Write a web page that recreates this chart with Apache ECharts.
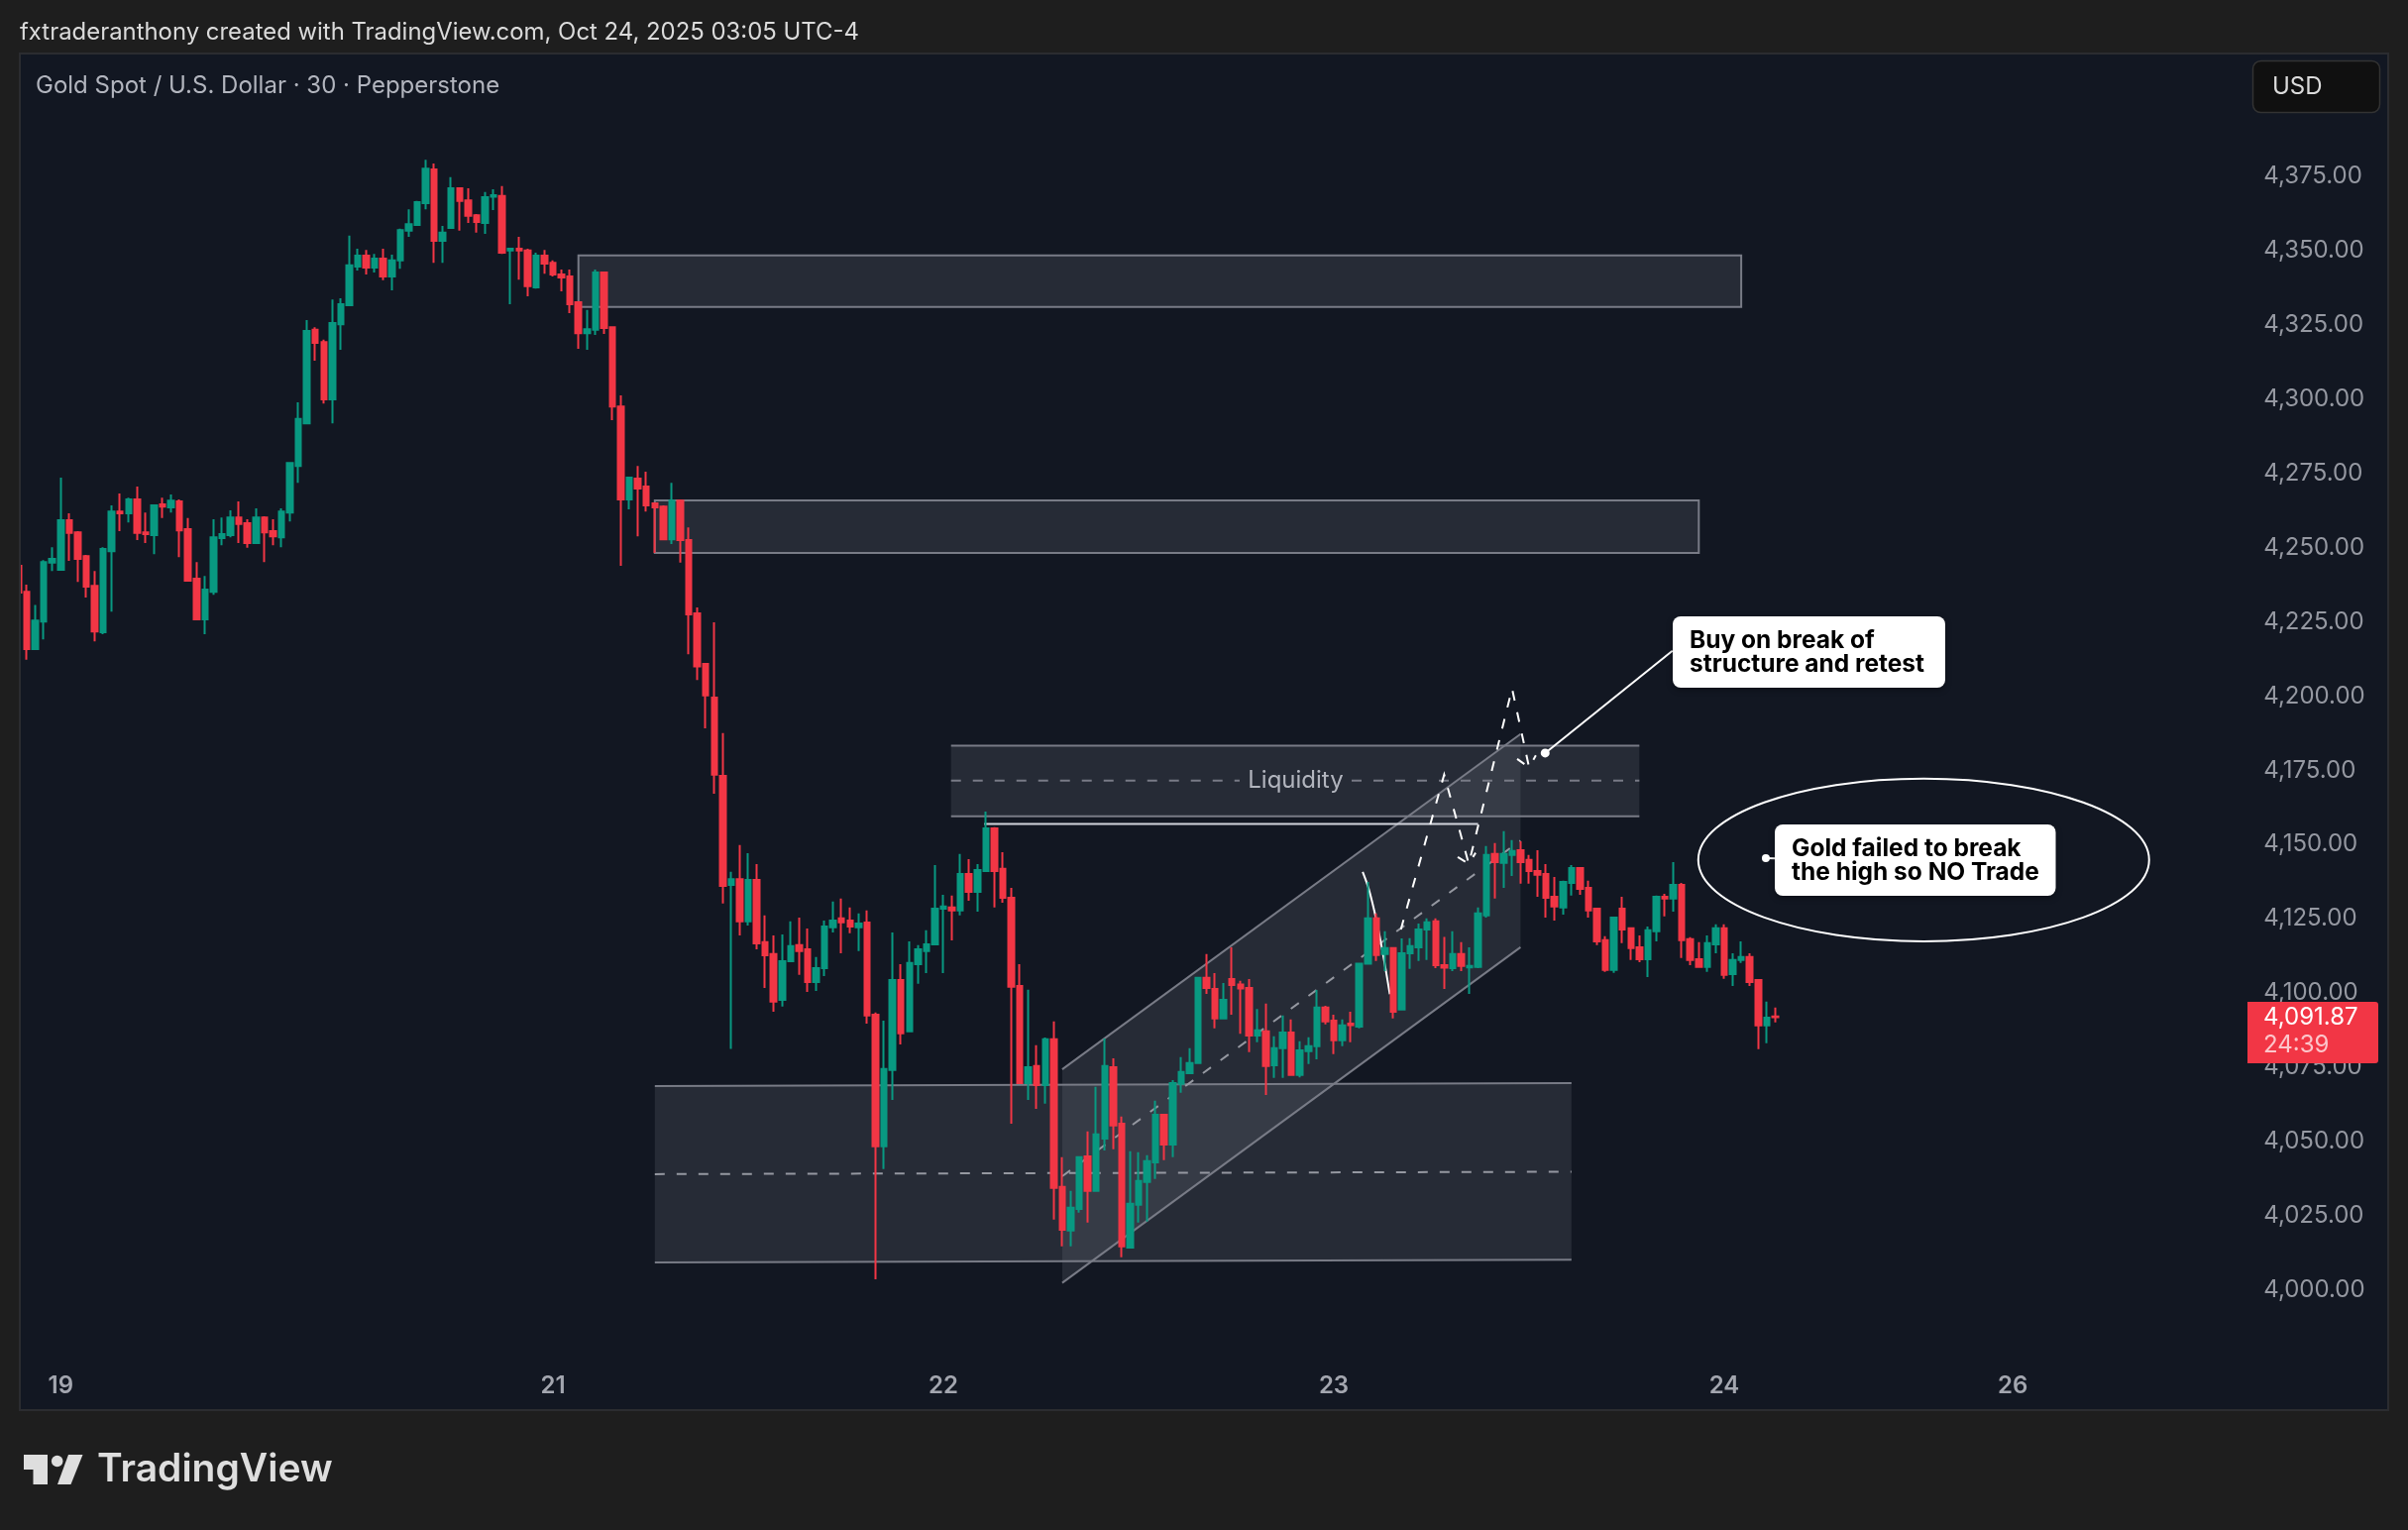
<!DOCTYPE html>
<html>
<head>
<meta charset="utf-8">
<style>html,body{margin:0;padding:0;background:#1e1e1e}#main{width:2430px;height:1544px}</style>
<script src="https://cdn.jsdelivr.net/npm/echarts@6/dist/echarts.min.js"></script>
</head>
<body>
<div id="main"></div>
<script>
// 30 minute gold candles, first one is cut by the pane edge
var opens = [4243.8,
4235.1,4215.8,4225.1,4244.9,4242.5,4259.2,4255.1,4247.1,4237.1,4221.5,
4248.8,4262.1,4261.5,4266.2,4255.1,4254.2,4264.5,4263.5,4265.5,4256.2,
4239.5,4225.8,4235.1,4253.2,4254.2,4260.1,4258.2,4251.5,4260.1,4255.5,
4253.4,4261.8,4277.5,4291.8,4323.3,4319.2,4299.9,4325.2,4331.6,4344.6,
4348.3,4344.3,4347.3,4341.3,4346.7,4356.7,4358.6,4366,4377.3,4353.3,
4357.6,4371,4366.9,4361.9,4359.3,4368.1,4368.4,4350,4350.6,4350,
4337.6,4348.3,4345.9,4341.9,4341.3,4332.6,4322.2,4323.3,4342.6,4324.2,
4297.5,4266.2,4273.2,4270.5,4264.9,4263.8,4252.8,4265.8,4252.5,4227.8,
4210.8,4199.5,4173.1,4136.4,4138.3,4124.1,4138.1,4117.1,4113.1,4097.7,
4110.7,4116.1,4114.7,4103.7,4108.4,4122.1,4125.1,4124.4,4122.1,4123.7,
4092.7,4048.4,4074.1,4104.4,4087.1,4109.7,4114.1,4116.4,4128.4,4128.8,
4127.8,4140.1,4134.1,4141.1,4155.4,4141.8,4132.1,4102.4,4069.7,4075.4,
4069,4084.4,4034.7,4020,4027.3,4045,4033.4,4051,4075,4056,
4014.3,4028.7,4036.4,4043,4059,4049,4069.4,4073,4076.4,4105.1,
4101.4,4091.4,4104.7,4102.9,4101.7,4085.7,4087.1,4075.7,4081.4,4086.7,
4072.4,4080.4,4082.1,4095.1,4090.7,4084.1,4089.7,4088.7,4109.9,4125.1,
4113.1,4115.1,4094.4,4113.4,4115.4,4121.4,4124.1,4109.4,4108.4,4113.1,
4108.6,4108.8,4126.1,4146.8,4143.8,4146.5,4148.1,4144.8,4141.1,4140.1,
4132.4,4128.8,4137.1,4142.1,4135.4,4128.4,4117.8,4107.8,4128.4,4121.8,
4115.4,4111.4,4120.8,4132.4,4131.8,4136.4,4118.1,4111.4,4108.8,4116.4,
4121.8,4106.4,4111.1,4112.1,4104.4,4089.1,4092.1];
var closes = [4234.8,
4215.8,4225.4,4245.1,4246.2,4259.2,4254.9,4246.2,4236.8,4221.7,4249.5,
4262.1,4261.5,4266.2,4254.9,4254.5,4264.2,4263.8,4265.8,4255.8,4238.8,
4225.8,4235.8,4253.4,4254.5,4260.1,4257.9,4251.5,4260.1,4255.1,4253.8,
4262.1,4278.5,4293.3,4322.9,4318.9,4299.9,4325.6,4331.9,4345,4348.3,
4344.3,4347.3,4341.3,4346.7,4356.9,4358.9,4366.3,4377.6,4353.3,4356,
4371,4366.7,4361.7,4359.6,4368,4368.6,4349.3,4350.6,4350,4338,
4348.3,4345.6,4341.9,4340.9,4331.9,4322.2,4323.5,4342.6,4323.9,4297.5,
4266.2,4273.5,4269.9,4264.2,4263.5,4252.8,4265.8,4252.5,4227.5,4210,
4200.2,4173.5,4136.1,4138.3,4124.1,4138.1,4116.7,4112.7,4097.1,4110.7,
4115.8,4114.1,4103.7,4108.4,4122.4,4124.4,4123.8,4122.4,4123.4,4092.4,
4048.4,4074.4,4104.4,4086.4,4110.1,4114.7,4116.4,4128.4,4129.1,4127.8,
4140.1,4134.1,4141.4,4155.4,4141.1,4132.1,4102.1,4069.7,4075,4069,
4084.4,4034.4,4020.3,4027.7,4044.7,4033.4,4052.4,4075.4,4055.4,4014.7,
4029,4036.7,4043.4,4059,4049,4069.7,4073.4,4076.4,4105.1,4101.7,
4091.4,4097.7,4102.7,4101.5,4085.7,4087.4,4075.4,4081.4,4086.7,4072.4,
4080.7,4082.1,4095.1,4090.4,4084.1,4089.1,4089.2,4109.9,4125.1,4112.8,
4115.1,4093.7,4113.4,4115.8,4121.4,4123.8,4109.4,4108.5,4113.1,4109.1,
4109.1,4126.8,4146.5,4144.1,4146.8,4147.8,4144.1,4141.1,4139.8,4132.1,
4129.1,4137.4,4142.1,4135.1,4127.8,4117.4,4107.8,4125.4,4121.4,4115.1,
4111.4,4121.1,4132.4,4131.8,4136.4,4117.8,4111.1,4108.8,4116.8,4121.8,
4106.1,4111.1,4112.1,4103.7,4089.1,4091.7,4091.87];
var highs = [4243.8,
4237.5,4230.7,4245.8,4250.1,4273.5,4261.5,4255.5,4247.5,4242.1,4250.1,
4264.2,4268.2,4266.8,4270.5,4261.8,4264.5,4266.8,4267.9,4266.2,4259.9,
4245.1,4240.4,4259.5,4260.1,4262.5,4265.5,4259.5,4263.2,4260.5,4259.5,
4263.2,4278.5,4298.9,4326.6,4324.2,4320,4333.5,4333.9,4355,4350.6,
4350.2,4348.9,4350.6,4348.6,4357.4,4363.9,4366.7,4380.6,4379.3,4358.3,
4374.7,4371.3,4371,4362.3,4369.7,4370.6,4371.7,4350.6,4354.6,4350.6,
4349.3,4350.2,4346.7,4343.6,4343.6,4332.6,4330,4343.6,4342.6,4324.2,
4301.2,4273.5,4277.5,4275.5,4264.9,4264.2,4271.8,4266.2,4256.8,4229.8,
4210.8,4224.8,4187.5,4140.8,4149.8,4147.1,4143.4,4126.1,4119.4,4119.7,
4124.1,4125.4,4121.7,4112.1,4124.4,4130.8,4131.8,4128.8,4126.8,4127.8,
4093.4,4090.7,4120.4,4109.7,4117.4,4116.1,4121.1,4143.1,4133.1,4132.8,
4146.8,4145.1,4143.4,4161.1,4155.8,4147.4,4135.4,4109.7,4101.1,4082.4,
4085,4090.4,4044.7,4033.4,4045,4053.4,4068.4,4084.7,4078,4058.4,
4046.7,4046.4,4045.4,4063.7,4059,4070.7,4078.4,4081.4,4105.1,4113.1,
4106.7,4103.4,4115.4,4104.1,4104.7,4094.6,4096.4,4085.4,4092.4,4091.1,
4083.8,4085.1,4101,4095.7,4092.7,4091.1,4093.7,4109.9,4137.4,4126.8,
4120.8,4115.4,4118.4,4118.5,4123.4,4125.1,4125.1,4118.9,4120.8,4117.1,
4115.4,4128.8,4149.5,4150.5,4154.5,4151.5,4151.1,4146.5,4148.1,4143.4,
4139.1,4137.8,4143.1,4142.4,4137.8,4128.4,4119.1,4125.4,4132.4,4122.1,
4119.4,4122.4,4132.8,4133.4,4144.1,4137.1,4118.8,4117.1,4119.4,4123.1,
4123.1,4113.4,4117.4,4113.4,4104.7,4097.1,4095.1];
var lows = [4234.8,
4212.2,4215.8,4219.1,4242.1,4242.5,4245.5,4238.4,4233.2,4218.4,4220.8,
4228.4,4255.5,4258.4,4252.5,4251.5,4247.8,4259.9,4261.8,4246.8,4238.8,
4225.8,4220.8,4234.1,4250.8,4253.4,4251.5,4249.9,4251.2,4245.1,4250.8,
4250.1,4258.8,4271.8,4291.6,4312.9,4298.5,4291.8,4316.6,4331.6,4343.3,
4341.9,4342.6,4340,4336.6,4343.9,4354.6,4358.6,4363.9,4345.9,4345.9,
4357.6,4356.7,4359.3,4356,4355.6,4363.6,4348.9,4331.9,4340.2,4334.6,
4337.2,4342.2,4341.3,4336.3,4328.9,4316.9,4316.6,4321.6,4321.9,4292.9,
4243.8,4262.9,4253.8,4262.1,4248.2,4252.8,4251.2,4244.9,4214.1,4205.4,
4189.1,4167.1,4130.1,4081.2,4119.4,4122.7,4114.7,4101.7,4093.7,4095.4,
4110.4,4106.1,4100.4,4100.7,4105.7,4120.4,4113.4,4120.1,4114.1,4089.7,
4003.6,4040.7,4064,4082.7,4087.1,4103.1,4106.7,4116.1,4106.7,4117.7,
4126.1,4131.1,4127.4,4141.1,4128.8,4130.4,4056,4069.4,4064,4061,
4062.7,4023.7,4014.7,4014.7,4026,4022.7,4033.4,4047,4047.4,4011,
4014.3,4022.7,4023,4037.4,4043.7,4044.7,4066.4,4073,4076.4,4099.7,
4088.1,4091.4,4092.7,4086.3,4080.1,4083.4,4065.7,4071.4,4071.4,4072.4,
4071.6,4076.1,4077.7,4089.4,4079.4,4082.1,4083.4,4088.1,4109.9,4110.8,
4107.4,4091.4,4094.4,4108.1,4110.8,4111.1,4108.4,4101.4,4107.4,4107.4,
4099.7,4108.4,4125.4,4131.8,4135.4,4139.4,4136.8,4136.8,4132.4,4125.4,
4124.4,4126.4,4132.8,4133.1,4125.4,4116.1,4107.1,4106.8,4116.8,4111.1,
4110.4,4105.4,4117.4,4125.8,4127.4,4111.8,4109.4,4108.8,4107.1,4113.4,
4104.8,4102.4,4110.1,4102.4,4081.1,4083.1,4090.1];

var dayBars = [4, 62, 108, 154, 200, 234];
var dayNames = ['19', '21', '22', '23', '24', '26'];
var priceMin = 3975, priceMax = 4400, priceStep = 25;
var barCount = 262;

// drawings, in [bar number, price]
var boxZones = [
  [[65, 4348.4], [202, 4331]],
  [[74, 4265.9], [197, 4248.2]]
];
var bandTop = [[108.9, 4183.3], [190, 4183.3]];
var bandBottom = [[108.9, 4159.5], [190, 4159.5]];
var bandMidLeft = [[108.9, 4171.5], [142.9, 4171.5]];
var bandMidRight = [[156.1, 4171.5], [190, 4171.5]];
var baseTop = [[74, 4068.7], [182, 4069.7]];
var baseBottom = [[74, 4009.3], [182, 4010.2]];
var baseMid = [[74, 4039], [182, 4039.8]];
var channelTop = [[122, 4074.3], [176, 4187.2]];
var channelBottom = [[122, 4002.4], [176, 4115.4]];
var channelMid = [[122, 4038.3], [176, 4151.3]];
var breakLevel = [[112.8, 4156.9], [171, 4156.9]];
var swingCurve = [[157.4, 4140.8], [158.1, 4135.2], [159, 4124.7], [159.8, 4113], [160.6, 4099.6]];
var plannedPath = [[161.9, 4121.4], [167, 4173.5], [169.9, 4143.5], [175, 4202.5], [177, 4176]];
var barbsOne = [[168.6, 4145.8], [170.7, 4147.2]];
var barbsTwo = [[175.6, 4178.8], [177.8, 4180]];
var buyDot = [178.9, 4180.8];
var buyLineEnd = [193.9, 4215.2];
var failDot = [204.9, 4145.4];
var failLineEnd = [206, 4145.3];
var failOval = {x: 223.5, y: 4144.8, rx: 26.56, ry: 27.4};

var liquidityPos = [149.5, 4171.5];

var lastPrice = closes[closes.length - 1];
var countdown = '24:39';
var titleText = 'fxtraderanthony created with TradingView.com, Oct 24, 2025 03:05 UTC-4';
var legendText = 'Gold Spot / U.S. Dollar \u00b7 30 \u00b7 Pepperstone';
var buyNote = 'Buy on break of\nstructure and retest';
var failNote = 'Gold failed to break\nthe high so NO Trade';

var UP = '#089981', DOWN = '#f23645', EDGE = '#787b86', OUTER = '#1e1e1e', PANE = '#121722';
var FONT = 'Inter, Roboto, sans-serif';

function money(v) {
  return v.toFixed(2).replace(/\B(?=(\d{3})(?=\.))/g, ',');
}

var categories = [];
for (var i = 0; i < barCount; i++) {
  var p = dayBars.indexOf(i - 1);
  categories.push(p >= 0 ? dayNames[p] : ' ');
}

var candles = [];
for (var k = 0; k < opens.length; k++) {
  candles.push([opens[k], closes[k], lows[k], highs[k]]);
}

function renderDrawings(params, api) {
  var pt = function (v) { return api.coord(v); };
  var poly = function (pts, color, width, dash) {
    return {
      type: 'polyline',
      shape: {points: pts.map(pt)},
      style: {stroke: color, lineWidth: width, lineDash: dash || null, fill: null}
    };
  };
  var area = function (top, bot) {
    return {
      type: 'polygon',
      shape: {points: [pt(top[0]), pt(top[1]), pt(bot[1]), pt(bot[0])]},
      style: {fill: 'rgba(120,123,134,0.2)'}
    };
  };
  var kids = [];
  boxZones.forEach(function (z) {
    var a = pt(z[0]), b = pt(z[1]);
    kids.push({
      type: 'rect',
      shape: {x: a[0], y: a[1], width: b[0] - a[0], height: b[1] - a[1]},
      style: {fill: 'rgba(120,123,134,0.2)', stroke: EDGE, lineWidth: 2}
    });
  });
  kids.push(area(bandTop, bandBottom), area(baseTop, baseBottom), area(channelTop, channelBottom));
  var dash = [10, 12];
  kids.push(poly(bandTop, EDGE, 2), poly(bandBottom, EDGE, 2));
  kids.push(poly(bandMidLeft, EDGE, 2, dash), poly(bandMidRight, EDGE, 2, dash));
  kids.push(poly(baseTop, EDGE, 2), poly(baseBottom, EDGE, 2), poly(baseMid, '#9598a1', 2, dash));
  kids.push(poly(channelTop, EDGE, 2), poly(channelBottom, EDGE, 2), poly(channelMid, '#9598a1', 2, dash));
  kids.push(poly(breakLevel, '#d1d4dc', 2));
  kids.push({
    type: 'polyline',
    shape: {points: swingCurve.map(pt), smooth: 0.3},
    style: {stroke: '#ffffff', lineWidth: 2, fill: null}
  });
  kids.push(poly(plannedPath, '#ffffff', 2, dash));
  var tipOne = plannedPath[2], tipTwo = plannedPath[4];
  kids.push(poly([barbsOne[0], tipOne], '#ffffff', 2, [9, 30]), poly([barbsOne[1], tipOne], '#ffffff', 2, [5, 30]));
  kids.push(poly([barbsTwo[0], tipTwo], '#ffffff', 2, [9, 30]), poly([barbsTwo[1], tipTwo], '#ffffff', 2, [5, 30]));
  kids.push(poly([buyDot, buyLineEnd], '#ffffff', 2), poly([failDot, failLineEnd], '#ffffff', 2));
  var d1 = pt(buyDot), d2 = pt(failDot);
  kids.push({type: 'circle', shape: {cx: d1[0], cy: d1[1], r: 4.5}, style: {fill: '#ffffff'}});
  kids.push({type: 'circle', shape: {cx: d2[0], cy: d2[1], r: 4}, style: {fill: '#ffffff'}});
  var oc = pt([failOval.x, failOval.y]);
  var oe = pt([failOval.x + failOval.rx, failOval.y + failOval.ry]);
  kids.push({
    type: 'ellipse',
    shape: {cx: oc[0], cy: oc[1], rx: oe[0] - oc[0], ry: oc[1] - oe[1]},
    style: {stroke: '#ffffff', lineWidth: 2, fill: null}
  });
  var lp = pt(liquidityPos);
  kids.push({
    type: 'text',
    style: {text: 'Liquidity', x: lp[0], y: lp[1], fill: '#b2b5be', font: '400 24px ' + FONT,
      textAlign: 'center', textVerticalAlign: 'middle', align: 'center', verticalAlign: 'middle'}
  });
  return {type: 'group', children: kids};
}

function label(x, y, str, color, font) {
  return {type: 'text', z: 110, silent: true, x: x, y: y,
    style: {text: str, fill: color, font: font, textVerticalAlign: 'middle', verticalAlign: 'middle'}};
}

function callout(x, y, w, h, str) {
  return [
    {type: 'rect', z: 108, silent: true,
      shape: {x: x, y: y, width: w, height: h, r: 8},
      style: {fill: '#ffffff', shadowBlur: 6, shadowColor: 'rgba(0,0,0,0.35)', shadowOffsetY: 2}},
    {type: 'text', z: 110, silent: true, x: x + 17, y: y + 13,
      style: {text: str, fill: '#000000', font: '700 24.5px ' + FONT, lineHeight: 24}}
  ];
}

var chart = echarts.init(document.getElementById('main'), null, {renderer: 'canvas'});
chart.setOption({
  animation: false,
  backgroundColor: OUTER,
  grid: {left: 14.15, width: barCount * 8.565, top: 103, height: 1273.7, containLabel: false, outerBoundsMode: 'none'},
  xAxis: [
    {
      type: 'category',
      data: categories,
      axisLine: {show: false},
      axisTick: {show: false},
      splitLine: {show: false},
      axisLabel: {interval: 0, margin: 10, color: '#a3a6af', fontFamily: FONT, fontSize: 24, fontWeight: 600}
    },
    {type: 'value', min: -1.5, max: barCount - 1.5, show: false}
  ],
  yAxis: {
    type: 'value',
    position: 'right',
    min: priceMin,
    max: priceMax,
    interval: priceStep,
    scale: true,
    axisLine: {show: false},
    axisTick: {show: false},
    splitLine: {show: false},
    axisLabel: {
      margin: 26,
      color: '#9598a1',
      fontFamily: FONT,
      fontSize: 24,
      showMinLabel: false,
      showMaxLabel: false,
      padding: [2, 0, 0, 0],
      formatter: money
    }
  },
  series: [
    {
      type: 'custom',
      xAxisIndex: 1,
      z: 1,
      silent: true,
      data: [[0, 4100]],
      renderItem: renderDrawings
    },
    {
      type: 'candlestick',
      z: 3,
      data: candles,
      barWidth: 6,
      itemStyle: {
        color: UP, color0: DOWN, borderColor: UP, borderColor0: DOWN,
        borderColorDoji: DOWN, borderWidth: 2
      }
    }
  ],
  graphic: {elements: [
    {type: 'rect', z: -10, silent: true, shape: {x: 20, y: 54, width: 2390, height: 1369}, style: {fill: PANE}},
    {type: 'rect', z: 100, silent: true, shape: {x: 0, y: 54, width: 20, height: 1369}, style: {fill: OUTER}},
    {type: 'rect', z: 101, silent: true, shape: {x: 20, y: 54, width: 2390, height: 1369},
      style: {fill: null, stroke: '#2b2c30', lineWidth: 2}},
    label(20, 33, titleText, '#dbdbdb', '400 23.9px ' + FONT),
    label(36, 87, legendText, '#b2b5be', '400 24px ' + FONT),
    {type: 'rect', z: 105, silent: true, shape: {x: 2273.5, y: 61.5, width: 128, height: 52, r: 8},
      style: {fill: '#101010', stroke: '#333333', lineWidth: 1.5}},
    label(2293, 88, 'USD', '#dbdbdb', '400 24px ' + FONT),
    {type: 'rect', z: 105, silent: true, shape: {x: 2268, y: 1011, width: 132, height: 62, r: [0, 3, 3, 0]}, style: {fill: DOWN}},
    label(2284, 1027, money(lastPrice), '#ffffff', '400 24px ' + FONT),
    label(2284, 1055, countdown, '#fcc5ca', '400 24px ' + FONT)
  ].concat(callout(1688, 622, 275, 72, buyNote), callout(1791, 832, 283.5, 72, failNote), [
    // TradingView mark
    {type: 'polygon', z: 110, silent: true, shape: {points: [[24, 1468], [48, 1468], [48, 1498], [33.5, 1498], [33.5, 1483], [24, 1483]]}, style: {fill: '#dedede'}},
    {type: 'circle', z: 110, silent: true, shape: {cx: 57.7, cy: 1474.5, r: 5.8}, style: {fill: '#dedede'}},
    {type: 'polygon', z: 110, silent: true, shape: {points: [[69, 1468], [83.5, 1468], [71.5, 1498], [58, 1498]]}, style: {fill: '#dedede'}},
    label(98, 1483, 'TradingView', '#dedede', '600 39px ' + FONT)
  ])}
});
</script>
</body>
</html>
